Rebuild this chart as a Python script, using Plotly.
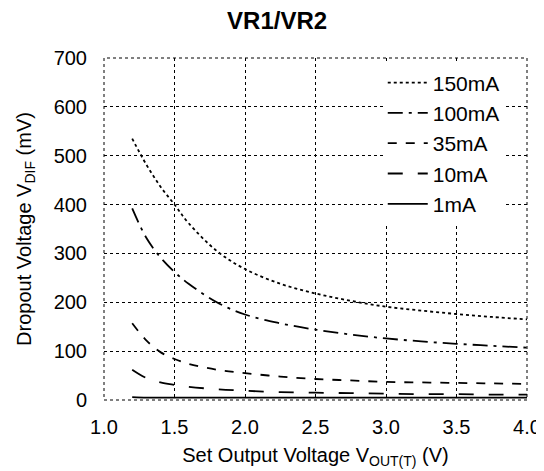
import plotly.graph_objects as go

x_vals = [1.2, 1.3, 1.4, 1.5, 1.6, 1.8, 2.0, 2.25, 2.5, 2.75, 3.0, 3.25, 3.5, 3.75, 4.0]
ma150 = [535, 482, 437, 400, 362, 305, 268, 238, 218, 203, 191, 183, 176, 170, 165]
ma100 = [392, 332, 292, 262, 238, 200, 175, 157, 144, 134, 126, 120, 115, 111, 107]
ma35 = [157, 122, 98, 84, 74, 62, 55, 48, 43, 40, 37, 36, 35, 34, 33]
ma10 = [62, 45, 36, 31, 27, 22, 19, 16, 15, 14, 13, 12, 12, 11, 11]
ma1 = [6, 5, 5, 5, 5, 5, 5, 5, 5, 5, 5, 5, 5, 5, 5]

series = [
    ("150mA", ma150, "dot"),
    ("100mA", ma100, "longdashdot"),
    ("35mA", ma35, "dash"),
    ("10mA", ma10, "longdash"),
    ("1mA", ma1, "solid"),
]

x_ticks = [1.0, 1.5, 2.0, 2.5, 3.0, 3.5, 4.0]
x_tick_text = ["1.0", "1.5", "2.0", "2.5", "3.0", "3.5", "4.0"]
y_ticks = [0, 100, 200, 300, 400, 500, 600, 700]

fig = go.Figure()
for name, vals, dash in series:
    fig.add_trace(go.Scatter(
        x=x_vals, y=vals, name=name, mode="lines",
        line=dict(color="black", width=1.8, dash=dash, shape="spline"),
    ))

font = "Liberation Sans, Arial, sans-serif"
fig.update_layout(
    width=536, height=463,
    margin=dict(l=96, r=17, t=50, b=71),
    paper_bgcolor="white", plot_bgcolor="white",
    title=dict(text="<b>VR1/VR2</b>", x=0.502, xanchor="center", y=0.972, yanchor="middle",
               font=dict(family=font, size=24, color="black")),
    font=dict(family=font, size=18, color="black"),
    showlegend=True,
    legend=dict(x=0.659, y=0.987, xanchor="left", yanchor="top",
                bgcolor="white", borderwidth=0,
                font=dict(family=font, size=21, color="black"),
                tracegroupgap=0, itemwidth=40),
    xaxis=dict(range=[1.0, 4.0], tickvals=x_ticks, ticktext=x_tick_text, automargin=False,
               showgrid=True, gridcolor="black", griddash="dot", gridwidth=1,
               zeroline=False, showline=False, ticks="outside", ticklen=9, tickcolor="white",
               title=dict(text="Set Output Voltage V<sub>OUT(T)</sub> (V)", standoff=10,
                          font=dict(size=20)),
               tickfont=dict(size=20)),
    yaxis=dict(range=[0, 700], tickvals=y_ticks, automargin=False,
               showgrid=True, gridcolor="black", griddash="dot", gridwidth=1,
               zeroline=False, showline=False, ticks="outside", ticklen=12, tickcolor="white",
               title=dict(text="Dropout Voltage V<sub>DIF</sub> (mV)", standoff=16,
                          font=dict(size=20)),
               tickfont=dict(size=20)),
)
fig.add_shape(type="rect", xref="paper", yref="paper", x0=0, y0=0, x1=1, y1=1,
              line=dict(color="black", width=1, dash="dot"), layer="above")

fig.write_html("out.html")
